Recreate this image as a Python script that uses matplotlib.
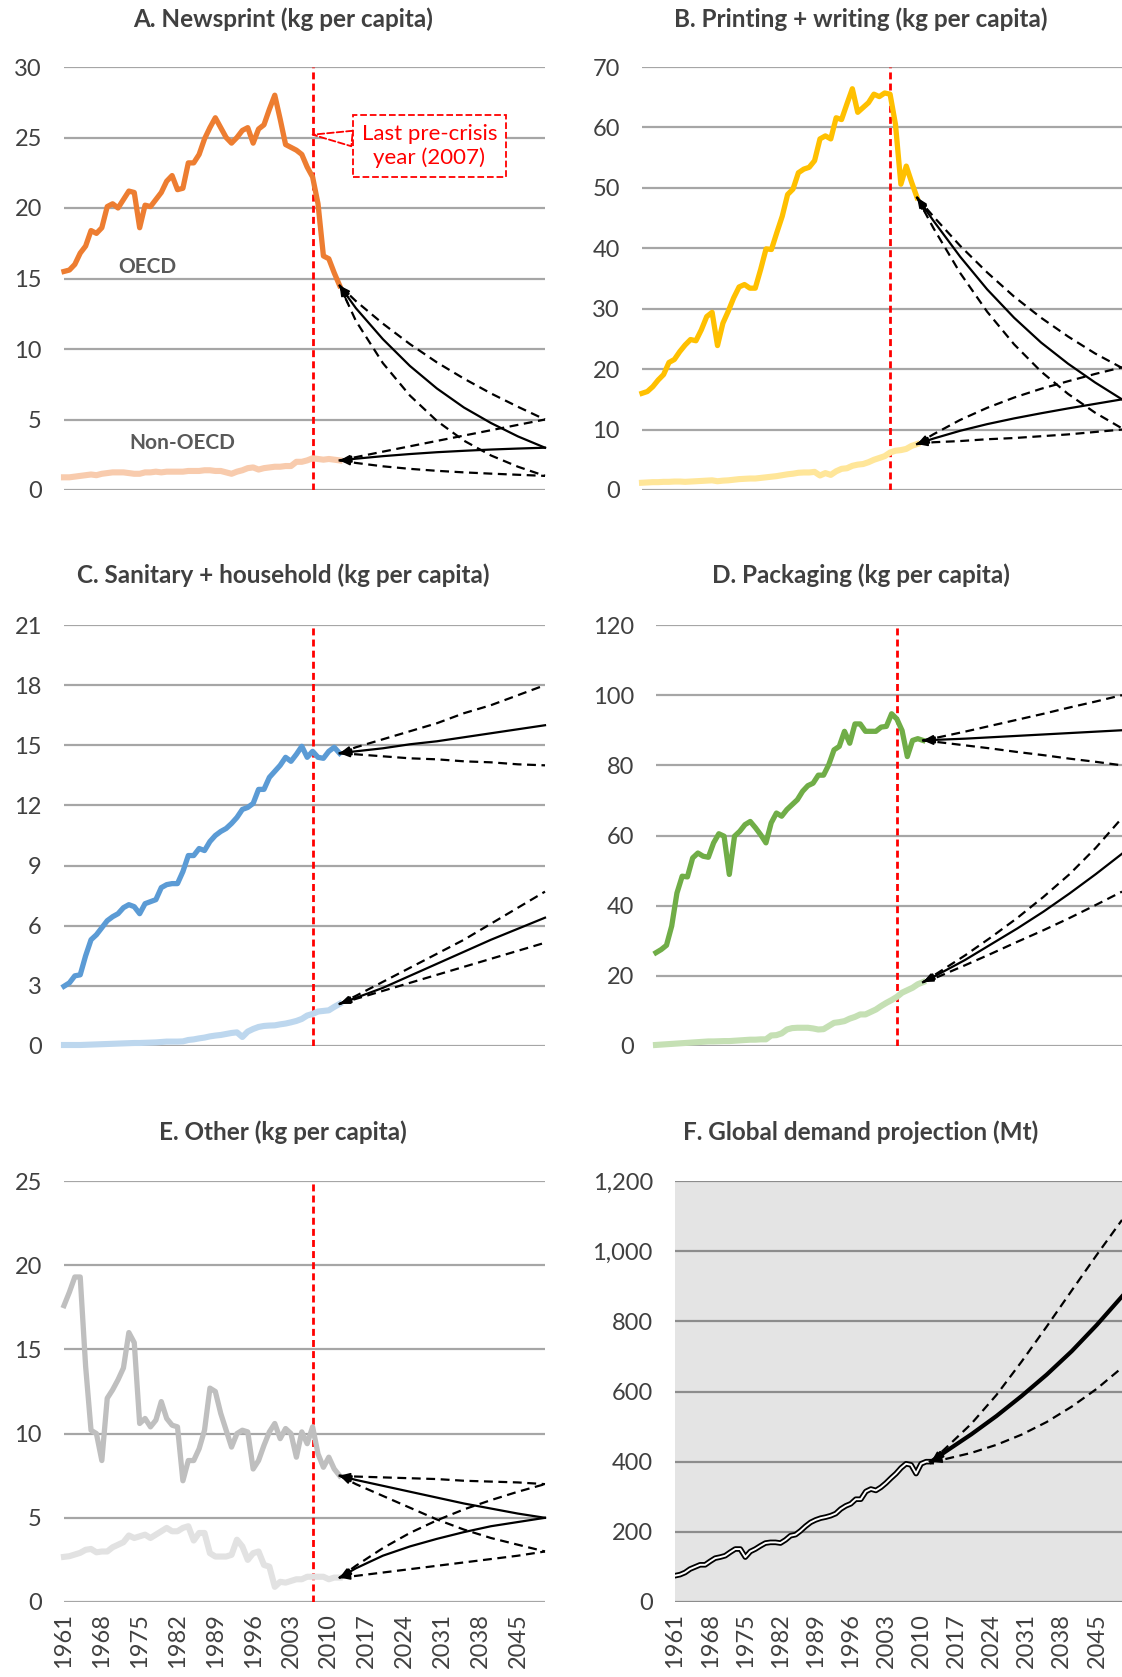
import matplotlib
matplotlib.use("Agg")
import matplotlib.pyplot as plt

plt.rcParams['font.family'] = ['Lato', 'DejaVu Sans']

# Data
years = list(range(1961, 2013))
proj_years = [2012, 2015, 2020, 2025, 2030, 2035, 2040, 2045, 2050]
tick_years = list(range(1961, 2050, 7))

# A. Newsprint
news_oecd = [15.5, 15.6, 16.0, 16.8, 17.3, 18.4, 18.2, 18.6, 20.1, 20.3,
             20.0, 20.6, 21.2, 21.1, 18.6, 20.2, 20.1, 20.6, 21.1, 21.9,
             22.3, 21.3, 21.4, 23.2, 23.2, 23.8, 24.9, 25.7, 26.4, 25.7,
             25.0, 24.6, 25.0, 25.5, 25.7, 24.6, 25.6, 25.9, 27.0, 28.0,
             26.3, 24.5, 24.3, 24.1, 23.8, 22.9, 22.2, 20.3, 16.6, 16.4,
             15.4, 14.5]
news_non = [0.9, 0.9, 0.95, 1.0, 1.05, 1.1, 1.05, 1.15, 1.2, 1.25,
            1.25, 1.25, 1.2, 1.15, 1.15, 1.25, 1.25, 1.3, 1.25, 1.3,
            1.3, 1.3, 1.3, 1.35, 1.35, 1.35, 1.4, 1.4, 1.35, 1.35,
            1.25, 1.15, 1.3, 1.4, 1.55, 1.6, 1.45, 1.55, 1.6, 1.65,
            1.65, 1.7, 1.7, 2.0, 2.0, 2.1, 2.25, 2.2, 2.15, 2.2,
            2.15, 2.1]
news_oecd_mid = [14.5, 12.9, 10.7, 8.8, 7.2, 5.85, 4.75, 3.8, 3.0]
news_oecd_hi = [14.5, 13.4, 11.8, 10.35, 9.05, 7.9, 6.85, 5.9, 5.0]
news_oecd_lo = [14.5, 12.0, 9.0, 6.7, 4.9, 3.5, 2.45, 1.65, 1.0]
news_non_mid = [2.1, 2.22, 2.4, 2.55, 2.68, 2.78, 2.87, 2.94, 3.0]
news_non_hi = [2.1, 2.33, 2.72, 3.1, 3.48, 3.86, 4.24, 4.62, 5.0]
news_non_lo = [2.1, 1.92, 1.68, 1.5, 1.36, 1.25, 1.16, 1.08, 1.0]

# B. Printing + writing
print_oecd = [16.0, 16.3, 17.1, 18.2, 19.1, 21.1, 21.6, 22.9, 24.0, 24.9,
              24.7, 26.5, 28.7, 29.4, 23.9, 27.6, 29.6, 31.8, 33.6, 34.0,
              33.4, 33.4, 36.5, 39.9, 39.8, 42.6, 45.3, 48.9, 49.8, 52.5,
              53.1, 53.4, 54.5, 58.1, 58.6, 58.1, 61.6, 61.3, 63.9, 66.4,
              62.5, 63.3, 64.1, 65.5, 65.1, 65.7, 65.5, 60.5, 50.6, 53.6,
              50.9, 48.4]
print_non = [1.2, 1.25, 1.3, 1.3, 1.35, 1.35, 1.4, 1.4, 1.35, 1.4,
             1.45, 1.5, 1.55, 1.6, 1.45, 1.55, 1.6, 1.7, 1.8, 1.85,
             1.9, 1.9, 2.0, 2.1, 2.2, 2.3, 2.45, 2.6, 2.7, 2.85,
             2.9, 2.9, 3.0, 2.4, 2.8, 2.5, 3.1, 3.5, 3.6, 4.0,
             4.2, 4.3, 4.6, 5.0, 5.3, 5.6, 6.2, 6.5, 6.6, 6.8,
             7.3, 7.6]
print_oecd_mid = [48.4, 44.6, 38.6, 33.2, 28.5, 24.4, 20.9, 17.8, 15.0]
print_oecd_hi = [48.4, 45.3, 40.4, 36.0, 32.0, 28.5, 25.4, 22.6, 20.2]
print_oecd_lo = [48.4, 43.4, 35.9, 29.5, 24.1, 19.6, 15.9, 12.8, 10.2]
print_non_mid = [7.6, 8.5, 9.8, 10.9, 11.85, 12.7, 13.5, 14.25, 15.0]
print_non_hi = [7.6, 9.2, 11.6, 13.6, 15.3, 16.75, 18.0, 19.2, 20.3]
print_non_lo = [7.6, 7.9, 8.1, 8.4, 8.6, 8.9, 9.2, 9.6, 10.0]

# C. Sanitary + household
san_oecd = [2.98, 3.15, 3.5, 3.55, 4.5, 5.3, 5.55, 5.9, 6.25, 6.45,
            6.6, 6.9, 7.05, 6.95, 6.6, 7.1, 7.2, 7.3, 7.9, 8.05,
            8.1, 8.1, 8.7, 9.5, 9.5, 9.85, 9.75, 10.2, 10.5, 10.7,
            10.85, 11.1, 11.4, 11.8, 11.9, 12.1, 12.8, 12.8, 13.4, 13.7,
            14.0, 14.4, 14.2, 14.55, 14.95, 14.4, 14.7, 14.4, 14.35, 14.7,
            14.9, 14.6]
san_non = [0.05, 0.05, 0.05, 0.05, 0.06, 0.07, 0.08, 0.09, 0.1, 0.11,
           0.12, 0.13, 0.14, 0.15, 0.15, 0.16, 0.17, 0.18, 0.2, 0.22,
           0.22, 0.22, 0.23, 0.3, 0.33, 0.38, 0.42, 0.48, 0.52, 0.55,
           0.6, 0.65, 0.68, 0.45, 0.72, 0.85, 0.95, 1.0, 1.02, 1.03,
           1.08, 1.12, 1.18, 1.25, 1.35, 1.52, 1.6, 1.72, 1.75, 1.78,
           1.95, 2.1]
san_oecd_mid = [14.6, 14.7, 14.85, 15.05, 15.2, 15.4, 15.6, 15.8, 16.0]
san_oecd_hi = [14.6, 14.9, 15.3, 15.7, 16.1, 16.6, 17.0, 17.5, 18.0]
san_oecd_lo = [14.6, 14.55, 14.45, 14.35, 14.3, 14.2, 14.15, 14.05, 14.0]
san_non_mid = [2.1, 2.4, 2.9, 3.5, 4.1, 4.7, 5.3, 5.85, 6.4]
san_non_hi = [2.1, 2.5, 3.2, 3.9, 4.6, 5.3, 6.1, 6.9, 7.7]
san_non_lo = [2.1, 2.35, 2.75, 3.15, 3.55, 3.95, 4.35, 4.75, 5.15]

# D. Packaging
pack_oecd = [26.6, 27.5, 28.7, 34.2, 43.6, 48.4, 48.2, 53.6, 55.0, 54.1,
             53.8, 57.9, 60.5, 59.8, 48.9, 59.8, 61.2, 63.1, 64.0, 62.2,
             60.2, 57.9, 63.6, 66.4, 65.5, 67.4, 68.8, 70.2, 72.6, 74.2,
             74.9, 77.2, 77.2, 80.2, 84.4, 85.4, 89.7, 86.3, 91.8, 91.8,
             89.7, 89.7, 89.7, 90.9, 91.1, 94.7, 93.2, 89.9, 82.5, 87.1,
             87.6, 87.1]
pack_non = [0.3, 0.4, 0.5, 0.6, 0.7, 0.8, 0.9, 1.0, 1.1, 1.2,
            1.3, 1.3, 1.35, 1.4, 1.4, 1.5, 1.6, 1.7, 1.8, 1.8,
            1.9, 1.9, 3.0, 3.1, 3.6, 4.7, 5.1, 5.2, 5.2, 5.2,
            5.0, 4.7, 4.8, 5.7, 6.6, 6.8, 7.1, 7.8, 8.3, 9.0,
            9.0, 9.7, 10.4, 11.4, 12.3, 13.1, 14.0, 15.2, 15.9, 16.6,
            17.6, 18.2]
pack_oecd_mid = [87.1, 87.3, 87.6, 88.0, 88.4, 88.8, 89.2, 89.6, 90.0]
pack_oecd_hi = [87.1, 88.0, 89.6, 91.3, 93.0, 94.7, 96.5, 98.2, 100.0]
pack_oecd_lo = [87.1, 86.6, 85.7, 84.8, 83.8, 82.9, 81.9, 81.0, 80.0]
pack_non_mid = [18.2, 20.5, 24.5, 29.0, 33.5, 38.3, 43.5, 49.0, 54.8]
pack_non_hi = [18.2, 21.0, 25.8, 31.0, 36.5, 42.5, 49.0, 56.5, 65.0]
pack_non_lo = [18.2, 19.8, 23.0, 26.3, 29.7, 33.0, 36.5, 40.2, 44.0]

# E. Other
oth_oecd = [17.6, 18.4, 19.3, 19.3, 14.0, 10.2, 10.0, 8.4, 12.1, 12.6,
            13.2, 13.9, 16.0, 15.4, 10.6, 10.9, 10.4, 10.8, 11.9, 10.9,
            10.5, 10.4, 7.2, 8.4, 8.4, 9.1, 10.2, 12.7, 12.5, 11.2,
            10.2, 9.2, 10.0, 10.2, 10.1, 7.9, 8.4, 9.3, 10.1, 10.6,
            9.7, 10.3, 10.0, 8.6, 10.1, 9.4, 10.4, 8.8, 8.0, 8.6,
            7.9, 7.5]
oth_non = [2.68, 2.72, 2.82, 2.92, 3.1, 3.15, 2.95, 3.0, 3.0, 3.25,
           3.4, 3.55, 3.95, 3.8, 3.9, 4.0, 3.8, 4.0, 4.2, 4.4,
           4.2, 4.2, 4.4, 4.5, 3.65, 4.1, 4.1, 2.9, 2.7, 2.7,
           2.7, 2.8, 3.7, 3.3, 2.5, 2.9, 3.0, 2.2, 2.1, 0.9,
           1.2, 1.15, 1.25, 1.35, 1.35, 1.5, 1.5, 1.5, 1.5, 1.35,
           1.45, 1.45]
oth_oecd_mid = [7.5, 7.25, 6.9, 6.55, 6.2, 5.85, 5.55, 5.25, 5.0]
oth_oecd_hi = [7.5, 7.45, 7.4, 7.35, 7.3, 7.2, 7.15, 7.1, 7.0]
oth_oecd_lo = [7.5, 7.0, 6.3, 5.6, 4.9, 4.3, 3.8, 3.4, 3.0]
oth_non_mid = [1.45, 2.0, 2.75, 3.3, 3.75, 4.15, 4.5, 4.75, 5.0]
oth_non_hi = [1.45, 2.15, 3.2, 4.1, 4.85, 5.5, 6.05, 6.55, 7.0]
oth_non_lo = [1.45, 1.55, 1.75, 1.95, 2.15, 2.35, 2.55, 2.75, 3.0]

# F. Global demand (Mt)
glob_hist = [75, 78, 84, 94, 100, 106, 106, 116, 125, 128,
             132, 142, 151, 151, 128, 144, 151, 160, 168, 170,
             170, 168, 177, 189, 192, 203, 216, 227, 234, 239,
             242, 246, 252, 265, 274, 280, 293, 293, 315, 322,
             318, 327, 339, 353, 366, 382, 394, 391, 366, 394,
             400, 400]
glob_mid = [400, 430, 478, 530, 587, 648, 715, 790, 871]
glob_hi = [400, 440, 508, 590, 685, 785, 888, 990, 1089]
glob_lo = [400, 408, 425, 448, 477, 513, 557, 608, 668]

W, H = 1122, 1677
fig = plt.figure(figsize=(W / 100, H / 100), dpi=100)
TXT = '#404040'
FS = 17


def make_axes(l, t, r, b):
    return fig.add_axes([l / W, 1 - b / H, (r - l) / W, (b - t) / H])


def style(ax, top, step, show_x=False, grid_color='#A6A6A6', comma=False, red=True):
    ax.set_xlim(1961, 2050)
    ax.set_ylim(0, top)
    yt = list(range(0, top + 1, step))
    ax.set_yticks(yt)
    if comma:
        ax.set_yticklabels([f'{v:,}' for v in yt])
    for s in ax.spines.values():
        s.set_visible(False)
    ax.grid(axis='y', color=grid_color, lw=1.6)
    ax.set_axisbelow(True)
    ax.tick_params(axis='y', length=0, pad=16, labelsize=FS, labelcolor=TXT)
    ax.set_xticks(tick_years)
    if show_x:
        ax.set_xticklabels([str(y) for y in tick_years], rotation=90)
        ax.tick_params(axis='x', length=0, pad=8, labelsize=FS, labelcolor=TXT)
    else:
        ax.tick_params(axis='x', length=0, labelbottom=False)
    if red:
        ax.axvline(2007, color='#FF0000', lw=2, ls=(0, (2.5, 1.5)), zorder=3)


def arrow_head(ax, vals, lw=1.4):
    x0, y0 = proj_years[0], vals[0]
    x1 = x0 + 0.5 * (proj_years[1] - x0)
    y1 = y0 + 0.5 * (vals[1] - y0)
    ax.annotate('', xy=(x0, y0), xytext=(x1, y1),
                arrowprops=dict(arrowstyle='-|>,head_length=0.45,head_width=0.14',
                                color='black', lw=lw, shrinkA=0, shrinkB=0,
                                mutation_scale=13), zorder=6)


def projections(ax, mid, hi, lo, lw=1.6):
    ax.plot(proj_years, hi, color='black', lw=1.6, ls=(0, (4, 2.5)), zorder=5, clip_on=False)
    ax.plot(proj_years, lo, color='black', lw=1.6, ls=(0, (4, 2.5)), zorder=5, clip_on=False)
    ax.plot(proj_years, mid, color='black', lw=lw, zorder=5, clip_on=False)
    for v in (hi, lo):
        arrow_head(ax, v, 1.2)
    arrow_head(ax, mid, min(lw, 2.0))


def panel(ax, oecd, non, c_dark, c_light, proj_o, proj_n):
    ax.plot(years, non, color=c_light, lw=4.4, zorder=4, clip_on=False, solid_joinstyle='round')
    ax.plot(years, oecd, color=c_dark, lw=3.8, zorder=4, clip_on=False, solid_joinstyle='round')
    projections(ax, *proj_o)
    projections(ax, *proj_n)


axA = make_axes(64, 67, 545, 490)
axB = make_axes(642, 67, 1122, 490)
axC = make_axes(64, 625, 545, 1046)
axD = make_axes(656, 625, 1122, 1046)
axE = make_axes(64, 1181, 545, 1602)
axF = make_axes(675, 1181, 1122, 1602)

style(axA, 30, 5)
panel(axA, news_oecd, news_non, '#ED7D31', '#F8CBAD',
      (news_oecd_mid, news_oecd_hi, news_oecd_lo),
      (news_non_mid, news_non_hi, news_non_lo))
axA.text(1976.5, 15.8, 'OECD', fontsize=15, fontweight='bold', color='#595959',
         ha='center', va='center')
axA.text(1982.8, 3.3, 'Non-OECD', fontsize=15, fontweight='bold', color='#595959',
         ha='center', va='center')
axA.annotate('Last pre-crisis\nyear (2007)', xy=(2007, 25.2), xytext=(2028.6, 24.4),
             ha='center', va='center', fontsize=16, color='#FF0000', linespacing=1.2,
             bbox=dict(boxstyle='square,pad=0.4', fc='white', ec='#FF0000', ls='--', lw=1.3),
             arrowprops=dict(arrowstyle='wedge,tail_width=0.7', fc='white', ec='#FF0000',
                             ls='--', lw=1.3, shrinkA=0, shrinkB=0), zorder=7)

style(axB, 70, 10)
panel(axB, print_oecd, print_non, '#FFC000', '#FFE699',
      (print_oecd_mid, print_oecd_hi, print_oecd_lo),
      (print_non_mid, print_non_hi, print_non_lo))

style(axC, 21, 3)
panel(axC, san_oecd, san_non, '#5B9BD5', '#BDD7EE',
      (san_oecd_mid, san_oecd_hi, san_oecd_lo),
      (san_non_mid, san_non_hi, san_non_lo))

style(axD, 120, 20)
panel(axD, pack_oecd, pack_non, '#70AD47', '#C5E0B4',
      (pack_oecd_mid, pack_oecd_hi, pack_oecd_lo),
      (pack_non_mid, pack_non_hi, pack_non_lo))

style(axE, 25, 5, show_x=True)
panel(axE, oth_oecd, oth_non, '#BFBFBF', '#E2E2E2',
      (oth_oecd_mid, oth_oecd_hi, oth_oecd_lo),
      (oth_non_mid, oth_non_hi, oth_non_lo))

style(axF, 1200, 200, show_x=True, grid_color='#8C8C8C', comma=True, red=False)
axF.set_facecolor('#E4E4E4')
axF.plot(years, glob_hist, color='black', lw=4.0, zorder=4)
axF.plot(years, glob_hist, color='white', lw=1.4, zorder=4)
projections(axF, glob_mid, glob_hi, glob_lo, lw=3)

# Titles
titles = [('A. Newsprint (kg per capita)', 283, 19),
          ('B. Printing + writing (kg per capita)', 861, 19),
          ('C. Sanitary + household (kg per capita)', 283, 575),
          ('D. Packaging (kg per capita)', 861, 575),
          ('E. Other (kg per capita)', 283, 1132),
          ('F. Global demand projection (Mt)', 861, 1132)]
for t, x, y in titles:
    fig.text(x / W, 1 - y / H, t, ha='center', va='center', fontsize=17.5,
             fontweight='bold', color=TXT)

fig.savefig('out.png', dpi=100, facecolor='white')
